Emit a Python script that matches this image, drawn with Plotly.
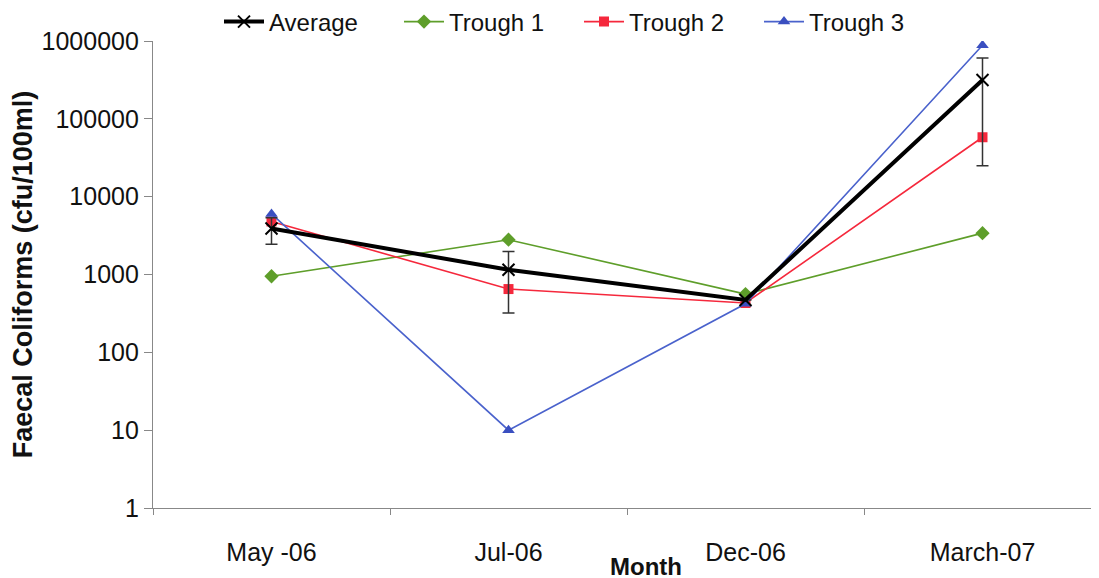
import plotly.graph_objects as go

months = ["May -06", "Jul-06", "Dec-06", "March-07"]
average = [3900, 1150, 470, 315000]
average_err = [1450, 830, 0, 290000]
trough1 = [950, 2800, 560, 3400]
trough2 = [4800, 650, 430, 58000]
trough3 = [6000, 10, 420, 880000]
y_ticks = [1, 10, 100, 1000, 10000, 100000, 1000000]

FONT = "Liberation Sans, Arial, sans-serif"
OFF = 8  # default page body margin

fig = go.Figure()
fig.add_trace(go.Scatter(x=months, y=trough1, name="Trough 1", mode="lines+markers",
                         line=dict(color="#5E9E2A", width=1.6),
                         marker=dict(symbol="diamond", size=11, color="#5E9E2A"),
                         legendrank=2))
fig.add_trace(go.Scatter(x=months, y=trough2, name="Trough 2", mode="lines+markers",
                         line=dict(color="#F5283C", width=1.6),
                         marker=dict(symbol="square", size=10, color="#F5283C"),
                         legendrank=3))
fig.add_trace(go.Scatter(x=months, y=trough3, name="Trough 3", mode="lines+markers",
                         line=dict(color="#4A62CC", width=1.6),
                         marker=dict(symbol="triangle-up", size=11, color="#3A4FC0"),
                         legendrank=4))
fig.add_trace(go.Scatter(x=months, y=average, name="Average", mode="lines+markers",
                         line=dict(color="#000000", width=4),
                         marker=dict(symbol="x-thin", size=12, color="#000000",
                                     line=dict(color="#000000", width=2)),
                         error_y=dict(type="data", array=average_err, visible=True,
                                      color="#333333", thickness=1.5, width=6),
                         legendrank=1))

fig.update_layout(
    width=1099, height=578,
    margin=dict(l=153 - OFF, r=6, t=41 - OFF, b=578 + OFF - 508, autoexpand=False),
    paper_bgcolor="white", plot_bgcolor="white",
    font=dict(family=FONT, size=24, color="#111111"),
    showlegend=True,
    legend=dict(orientation="h", xref="container", yref="container",
                x=(219 - OFF) / 1099, xanchor="left", y=1 - (22 - OFF) / 578, yanchor="middle",
                font=dict(size=24, family=FONT), bgcolor="rgba(0,0,0,0)",
                entrywidth=125, entrywidthmode="pixels",
                itemwidth=40, tracegroupgap=0),
    annotations=[dict(text="<b>Month</b>", xref="paper", yref="paper",
                      x=(646 - 153) / 948, y=(508 - 566) / 467,
                      xanchor="center", yanchor="middle", showarrow=False,
                      font=dict(size=24, family=FONT, color="#111111"))],
)
fig.update_xaxes(type="category", range=[-0.5, 3.5], showgrid=False, automargin=False,
                 showline=True, linecolor="#888888", linewidth=1.2,
                 ticks="outside", tickson="boundaries", ticklen=6, tickcolor="#888888",
                 tickfont=dict(size=25, family=FONT, color="#111111"),
                 ticklabelstandoff=22)
fig.update_yaxes(type="log", range=[0, 6], showgrid=False, automargin=False,
                 showline=True, linecolor="#888888", linewidth=1.2,
                 ticks="outside", ticklen=8, tickcolor="#888888",
                 tickvals=y_ticks, ticktext=[str(v) for v in y_ticks],
                 tickfont=dict(size=25, family=FONT, color="#111111"),
                 title=dict(text="<b>Faecal Coliforms (cfu/100ml)</b>",
                            font=dict(size=27, family=FONT, color="#111111"), standoff=8),
                 zeroline=False)

fig.write_html("out.html")
